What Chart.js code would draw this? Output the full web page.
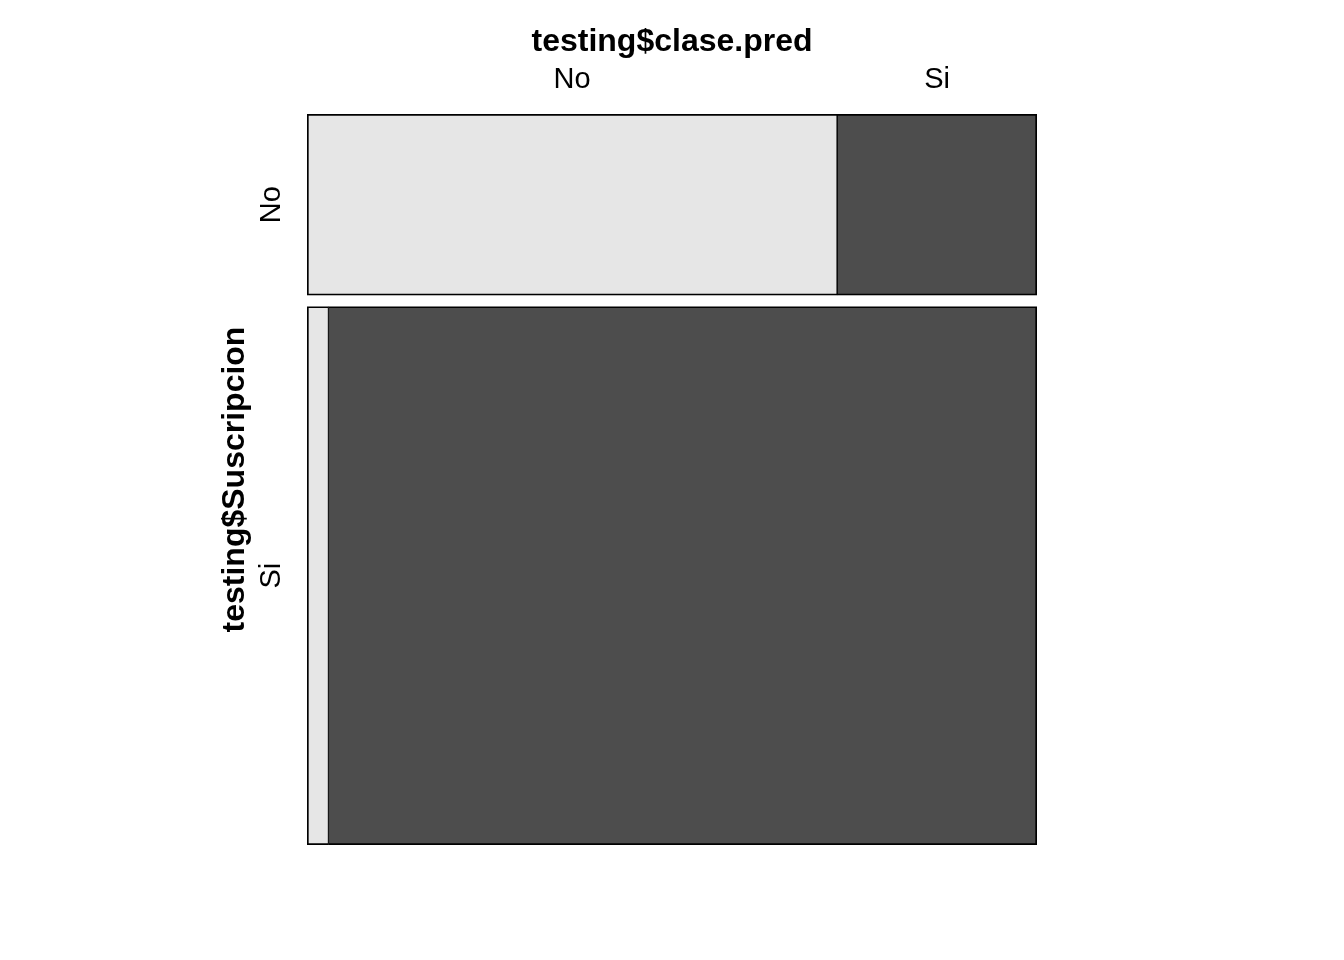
<!DOCTYPE html>
<html><head><meta charset="utf-8">
<script src="https://cdn.jsdelivr.net/npm/chart.js@4.4.1/dist/chart.umd.min.js"></script>
<style>html,body{margin:0;padding:0;background:#fff;} canvas{display:block;}</style>
</head><body>
<canvas id="c" width="1344" height="960"></canvas>
<script>
const rowVarName = 'testing$Suscripcion';
const colVarName = 'testing$clase.pred';
const rowLabels = ['No', 'Si'];
const colLabels = ['No', 'Si'];
const countsPredNo = [183, 22];
const countsPredSi = [69, 726];
const cellColors = ['#E6E6E6', '#4D4D4D'];

const FAMILY = "'Liberation Sans', Arial, sans-serif";
const counts = [countsPredNo, countsPredSi];
const rowTotals = rowLabels.map((_, r) => counts.reduce((s, col) => s + col[r], 0));
const grand = rowTotals.reduce((a, b) => a + b, 0);
const gapWeight = grand * 0.0153;

const datasets = [];
rowLabels.forEach((rl, r) => {
  let cum = 0;
  colLabels.forEach((cl, c) => {
    const p = counts[c][r] / rowTotals[r];
    datasets.push({
      label: rl + ' / ' + cl,
      data: [[cum, cum + p]],
      yAxisID: 'yRow' + r,
      xAxisID: 'x',
      backgroundColor: cellColors[c],
      borderColor: '#000000',
      borderWidth: {top: 2, bottom: 2, left: c === 0 ? 2 : 1, right: c === colLabels.length - 1 ? 2 : 1},
      borderSkipped: false,
      barPercentage: 1,
      categoryPercentage: 1,
      grouped: false
    });
    cum += p;
  });
});

// tick positions for column labels: centers of the top row's cells
const topTicks = [];
{
  let cum = 0;
  colLabels.forEach((cl, c) => {
    const p = counts[c][0] / rowTotals[0];
    topTicks.push(cum + p / 2);
    cum += p;
  });
}

const PAD_L = 212, PAD_T = 18.8;
const W_TITLE = 38.6, W_ROWS = 307 - PAD_L - 38.6, H_X = 114 - PAD_T;

const scales = {
  x: {
    type: 'linear', position: 'top', min: 0, max: 1,
    grid: {display: false, drawTicks: false}, border: {display: false},
    afterBuildTicks: s => { s.ticks = topTicks.map(v => ({value: v})); },
    afterFit: s => { s.height = H_X; },
    ticks: {
      autoSkip: false, maxRotation: 0, minRotation: 0, padding: 16.6,
      color: '#000', font: {family: FAMILY, size: 29},
      callback: (v, i) => colLabels[i]
    },
    title: {display: true, text: colVarName, color: '#000', font: {family: FAMILY, size: 32, weight: 'bold'}}
  },
  yTitle: {
    type: 'linear', position: 'left', weight: 10, min: 0, max: 1,
    grid: {display: false, drawTicks: false}, border: {display: false},
    ticks: {display: false},
    afterFit: s => { s.width = W_TITLE; },
    title: {display: true, text: rowVarName, color: '#000', font: {family: FAMILY, size: 32, weight: 'bold'}}
  }
};
rowLabels.forEach((rl, r) => {
  scales['yRow' + r] = {
    type: 'category', labels: [rl], offset: true, position: 'left',
    stack: 'rows', stackWeight: rowTotals[r], weight: 5 - 2 * r,
    grid: {display: false, drawTicks: false}, border: {display: false},
    ticks: {display: false},
    afterFit: s => { s.width = W_ROWS; },
    title: {display: true, text: rl, color: '#000', font: {family: FAMILY, size: 29}}
  };
  if (r < rowLabels.length - 1) {
    scales['yGap' + r] = {
      type: 'linear', display: false, position: 'left',
      stack: 'rows', stackWeight: gapWeight, weight: 4 - 2 * r
    };
  }
});

new Chart(document.getElementById('c'), {
  type: 'bar',
  data: {datasets},
  options: {
    indexAxis: 'y',
    responsive: false,
    animation: false,
    layout: {padding: {left: PAD_L, right: 307, top: PAD_T, bottom: 115}},
    plugins: {legend: {display: false}, tooltip: {enabled: false}, title: {display: false}},
    scales
  }
});
</script>
</body></html>
